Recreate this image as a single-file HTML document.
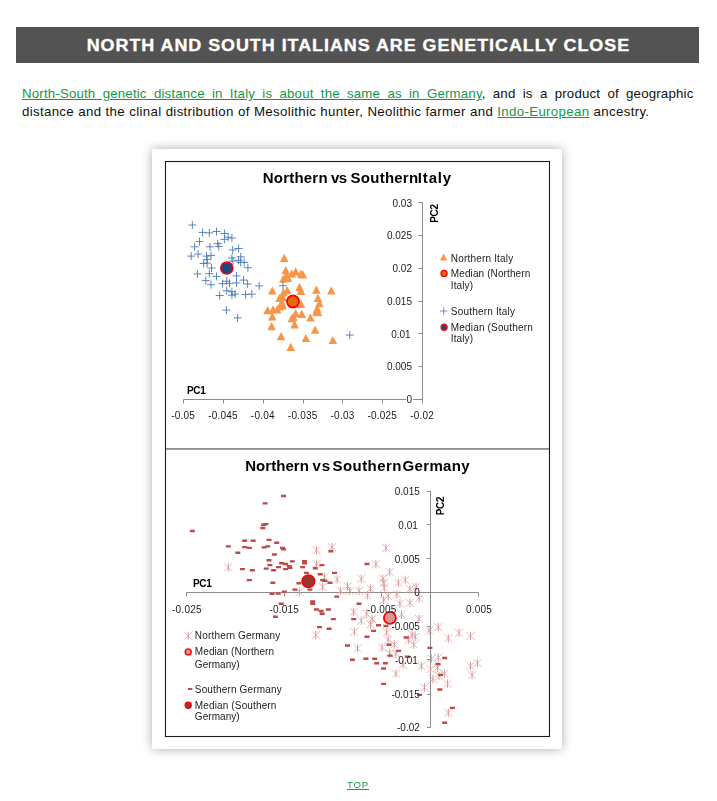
<!DOCTYPE html>
<html><head><meta charset="utf-8"><title>North and South Italians</title>
<style>
html,body{margin:0;padding:0;background:#fff;}
body{width:717px;height:801px;position:relative;overflow:hidden;font-family:"Liberation Sans",sans-serif;}
.hd{position:absolute;left:16px;top:27px;width:683px;height:36px;background:#535353;color:#fff;font-weight:bold;
 font-size:16.8px;line-height:38px;-webkit-text-stroke:0.35px #fff;text-align:center;letter-spacing:0.9px;white-space:nowrap;}
.hd span{display:inline-block;transform:scaleX(1.068);transform-origin:50% 50%;position:relative;left:1px;}
.p{position:absolute;left:22px;width:616px;font-size:12.2px;line-height:18px;color:#111;white-space:nowrap;transform:scaleX(1.09);transform-origin:0 0;}
.p1{top:85px;text-align:justify;text-align-last:justify;letter-spacing:0.15px;}
.p2{top:102.7px;letter-spacing:0.292px;word-spacing:0.2px;}
a{color:#14974a;text-decoration:underline;}
.box{position:absolute;left:152.2px;top:148.7px;width:410.3px;height:600.5px;background:#fff;box-shadow:0 0 10px rgba(0,0,0,.33);}
svg{position:absolute;left:0;top:0;will-change:transform;}
.t{font-family:"Liberation Sans",sans-serif;font-size:10px;fill:#1c1c1c;}
.xs{letter-spacing:0.22px;}
.b{font-weight:bold;fill:#000;letter-spacing:-0.3px;}
.ttl{font-family:"Liberation Sans",sans-serif;font-size:15px;font-weight:bold;fill:#000;}
.top{position:absolute;left:0;width:716px;top:779.3px;text-align:center;font-size:9.6px;line-height:12px;letter-spacing:0.8px;}
</style></head><body>
<div class="hd"><span>NORTH AND SOUTH ITALIANS ARE GENETICALLY CLOSE</span></div>
<div class="p p1"><a>North-South genetic distance in Italy is about the same as in Germany</a>, and is a product of geographic</div>
<div class="p p2">distance and the clinal distribution of Mesolithic hunter, Neolithic farmer and <a>Indo-European</a> ancestry.</div>
<div class="box"></div>
<svg width="717" height="801" viewBox="0 0 717 801">
<rect x="165.5" y="161.5" width="384" height="575" fill="none" stroke="#1a1a1a" stroke-width="1.1"/>
<rect x="166" y="448" width="383" height="1.8" fill="#8c8c8c"/>
<path d="M183.5 399.5H422.5M422.5 203V403" stroke="#8c8c8c" stroke-width="1" fill="none"/>
<path d="M183.5 399.5V403.5" stroke="#8c8c8c"/>
<path d="M223.5 399.5V403.5" stroke="#8c8c8c"/>
<path d="M263.5 399.5V403.5" stroke="#8c8c8c"/>
<path d="M303.5 399.5V403.5" stroke="#8c8c8c"/>
<path d="M342.5 399.5V403.5" stroke="#8c8c8c"/>
<path d="M382.5 399.5V403.5" stroke="#8c8c8c"/>
<path d="M422.5 399.5V403.5" stroke="#8c8c8c"/>
<path d="M418.5 202.5H422.5" stroke="#8c8c8c"/>
<path d="M418.5 235.5H422.5" stroke="#8c8c8c"/>
<path d="M418.5 268.5H422.5" stroke="#8c8c8c"/>
<path d="M418.5 301.5H422.5" stroke="#8c8c8c"/>
<path d="M418.5 333.5H422.5" stroke="#8c8c8c"/>
<path d="M418.5 366.5H422.5" stroke="#8c8c8c"/>
<path d="M418.5 399.5H422.5" stroke="#8c8c8c"/>
<rect x="406" y="394" width="7" height="10" fill="#fff"/>
<text x="412" y="206.7" text-anchor="end" class="t">0.03</text>
<text x="412" y="239.4" text-anchor="end" class="t">0.025</text>
<text x="412" y="272.2" text-anchor="end" class="t">0.02</text>
<text x="412" y="304.9" text-anchor="end" class="t">0.015</text>
<text x="410.7" y="337.6" text-anchor="end" class="t">0.01</text>
<text x="412" y="370.3" text-anchor="end" class="t">0.005</text>
<text x="412" y="403.1" text-anchor="end" class="t">0</text>
<text x="183.2" y="418.8" text-anchor="middle" class="t xs">-0.05</text>
<text x="223.0" y="418.8" text-anchor="middle" class="t xs">-0.045</text>
<text x="262.8" y="418.8" text-anchor="middle" class="t xs">-0.04</text>
<text x="302.7" y="418.8" text-anchor="middle" class="t xs">-0.035</text>
<text x="342.5" y="418.8" text-anchor="middle" class="t xs">-0.03</text>
<text x="382.3" y="418.8" text-anchor="middle" class="t xs">-0.025</text>
<text x="422.1" y="418.8" text-anchor="middle" class="t xs">-0.02</text>
<text x="187" y="393.5" class="t b">PC1</text>
<text transform="translate(437.8,222.8) rotate(-90)" class="t b">PC2</text>
<text x="262.7" y="183.3" class="ttl" textLength="64.9">Northern</text>
<text x="331.1" y="183.3" class="ttl" textLength="16.1">vs</text>
<text x="350.6" y="183.3" class="ttl" textLength="67.5">Southern</text>
<text x="417.8" y="183.3" class="ttl" textLength="33.4">Italy</text>
<path d="M284.2 253.8l4.3 8.2h-8.6zM285.7 266.1l4.3 8.2h-8.6zM291.8 269.2l4.3 8.2h-8.6zM295.7 267.2l4.3 8.2h-8.6zM301.0 269.6l4.3 8.2h-8.6zM302.9 270.3l4.3 8.2h-8.6zM286.5 271.5l4.3 8.2h-8.6zM283.4 274.6l4.3 8.2h-8.6zM288.0 273.8l4.3 8.2h-8.6zM299.5 283.0l4.3 8.2h-8.6zM301.0 286.8l4.3 8.2h-8.6zM272.3 286.4l4.3 8.2h-8.6zM287.2 286.1l4.3 8.2h-8.6zM283.4 288.4l4.3 8.2h-8.6zM316.4 285.6l4.3 8.2h-8.6zM331.3 286.4l4.3 8.2h-8.6zM279.5 293.7l4.3 8.2h-8.6zM282.6 293.0l4.3 8.2h-8.6zM317.9 293.7l4.3 8.2h-8.6zM281.8 298.3l4.3 8.2h-8.6zM301.0 299.9l4.3 8.2h-8.6zM319.4 299.1l4.3 8.2h-8.6zM279.5 302.2l4.3 8.2h-8.6zM282.6 301.4l4.3 8.2h-8.6zM277.2 305.2l4.3 8.2h-8.6zM273.1 305.2l4.3 8.2h-8.6zM267.6 306.0l4.3 8.2h-8.6zM317.1 304.5l4.3 8.2h-8.6zM316.4 307.5l4.3 8.2h-8.6zM317.9 308.0l4.3 8.2h-8.6zM295.7 309.1l4.3 8.2h-8.6zM301.8 309.8l4.3 8.2h-8.6zM293.4 312.9l4.3 8.2h-8.6zM291.8 314.1l4.3 8.2h-8.6zM272.3 312.4l4.3 8.2h-8.6zM310.5 313.4l4.3 8.2h-8.6zM294.6 320.3l4.3 8.2h-8.6zM271.6 322.1l4.3 8.2h-8.6zM315.1 325.6l4.3 8.2h-8.6zM281.1 332.1l4.3 8.2h-8.6zM305.9 333.9l4.3 8.2h-8.6zM332.8 335.9l4.3 8.2h-8.6zM290.7 342.8l4.3 8.2h-8.6z" fill="#f79646"/>
<path d="M188.3 225.0h8M192.3 221.0v8M198.6 232.4h8M202.6 228.4v8M205.3 232.9h8M209.3 228.9v8M212.5 231.5h8M216.5 227.5v8M220.6 233.5h8M224.6 229.5v8M224.1 237.3h8M228.1 233.3v8M227.9 238.0h8M231.9 234.0v8M220.4 239.4h8M224.4 235.4v8M195.5 241.5h8M199.5 237.5v8M190.6 246.8h8M194.6 242.8v8M206.0 246.8h8M210.0 242.8v8M213.7 243.6h8M217.7 239.6v8M214.8 246.4h8M218.8 242.4v8M228.7 249.9h8M232.7 245.9v8M234.6 248.5h8M238.6 244.5v8M187.2 256.1h8M191.2 252.1v8M194.1 254.1h8M198.1 250.1v8M202.5 256.1h8M206.5 252.1v8M207.0 255.4h8M211.0 251.4v8M203.2 259.6h8M207.2 255.6v8M199.7 263.5h8M203.7 259.5v8M203.2 263.1h8M207.2 259.1v8M227.9 258.0h8M231.9 254.0v8M236.7 256.8h8M240.7 252.8v8M229.0 261.0h8M233.0 257.0v8M234.6 260.3h8M238.6 256.3v8M236.7 262.4h8M240.7 258.4v8M240.2 262.4h8M244.2 258.4v8M243.9 267.7h8M247.9 263.7v8M207.4 268.0h8M211.4 264.0v8M193.4 273.9h8M197.4 269.9v8M205.3 273.6h8M209.3 269.6v8M212.5 276.4h8M216.5 272.4v8M232.5 275.9h8M236.5 271.9v8M201.8 280.6h8M205.8 276.6v8M207.0 284.7h8M211.0 280.7v8M218.5 283.6h8M222.5 279.6v8M222.7 281.2h8M226.7 277.2v8M225.5 283.3h8M229.5 279.3v8M232.5 282.9h8M236.5 278.9v8M239.5 280.1h8M243.5 276.1v8M243.6 284.0h8M247.6 280.0v8M255.2 285.9h8M259.2 281.9v8M222.7 290.7h8M226.7 286.7v8M227.9 291.7h8M231.9 287.7v8M215.7 295.5h8M219.7 291.5v8M227.9 295.2h8M231.9 291.2v8M231.1 294.1h8M235.1 290.1v8M241.6 294.5h8M245.6 290.5v8M247.8 294.1h8M251.8 290.1v8M222.4 310.1h8M226.4 306.1v8M233.6 317.9h8M237.6 313.9v8M345.8 335.1h8M349.8 331.1v8M278.9 285.7h8M282.9 281.7v8" stroke="#4a7ab5" stroke-width="1" fill="none" opacity="0.9"/>
<circle cx="226.8" cy="268" r="6.05" fill="#1f497d" stroke="#f00018" stroke-width="1.6"/>
<circle cx="293" cy="301.5" r="6" fill="#e36c0a" stroke="#ff0000" stroke-width="1.8"/>
<path d="M443.6 253.5l3.6 7h-7.2z" fill="#f79646"/>
<text x="450.8" y="261.6" class="t" textLength="62.4">Northern Italy</text>
<circle cx="444.1" cy="273.4" r="3" fill="#e36c0a" stroke="#ff0000" stroke-width="1.4"/>
<text x="450.8" y="277.4" class="t" textLength="79.5">Median (Northern</text>
<text x="450.8" y="289.2" class="t" textLength="22.2">Italy)</text>
<path d="M440 311h7.4M443.7 307.3v7.4" stroke="#4a7ab5" stroke-width="1" fill="none" opacity="0.8"/>
<text x="450.8" y="314.8" class="t" textLength="64.2">Southern Italy</text>
<circle cx="444.1" cy="327.3" r="3" fill="#1f497d" stroke="#ee1122" stroke-width="1.4"/>
<text x="450.8" y="330.6" class="t" textLength="82.0">Median (Southern</text>
<text x="450.8" y="342.4" class="t" textLength="22.2">Italy)</text>
<path d="M186.5 592.5H478.5M430.5 491V727.5" stroke="#8c8c8c" stroke-width="1" fill="none"/>
<path d="M186.5 592.5V596.5" stroke="#8c8c8c"/>
<path d="M284.5 592.5V596.5" stroke="#8c8c8c"/>
<path d="M381.5 592.5V596.5" stroke="#8c8c8c"/>
<path d="M478.5 592.5V596.5" stroke="#8c8c8c"/>
<path d="M427 491.5H430.5" stroke="#8c8c8c"/>
<path d="M427 524.5H430.5" stroke="#8c8c8c"/>
<path d="M427 558.5H430.5" stroke="#8c8c8c"/>
<path d="M427 592.5H430.5" stroke="#8c8c8c"/>
<path d="M427 626.5H430.5" stroke="#8c8c8c"/>
<path d="M427 659.5H430.5" stroke="#8c8c8c"/>
<path d="M427 694.5H430.5" stroke="#8c8c8c"/>
<path d="M427 727.5H430.5" stroke="#8c8c8c"/>
<text x="245.2" y="471" class="ttl" textLength="63.7">Northern</text>
<text x="312.5" y="471" class="ttl" textLength="17.7">vs</text>
<text x="332.6" y="471" class="ttl" textLength="68.7">Southern</text>
<text x="402.6" y="471" class="ttl" textLength="66.9">Germany</text>
<text x="193" y="586.6" class="t b">PC1</text>
<text transform="translate(444.3,515.3) rotate(-90)" class="t b">PC2</text>
<path d="M224.3 563.4l8 8M232.3 563.4l-8 8M312.5 546.2l8 8M320.5 546.2l-8 8M328.2 543.1l8 8M336.2 543.1l-8 8M381.9 543.9l8 8M389.9 543.9l-8 8M312.5 560.0l8 8M320.5 560.0l-8 8M371.9 560.3l8 8M379.9 560.3l-8 8M320.5 573.1l8 8M328.5 573.1l-8 8M333.1 575.4l8 8M341.1 575.4l-8 8M357.3 574.9l8 8M365.3 574.9l-8 8M318.7 583.0l8 8M326.7 583.0l-8 8M343.5 582.3l8 8M351.5 582.3l-8 8M366.5 584.6l8 8M374.5 584.6l-8 8M378.8 574.6l8 8M386.8 574.6l-8 8M379.8 578.9l8 8M387.8 578.9l-8 8M385.7 568.2l8 8M393.7 568.2l-8 8M295.5 588.0l8 8M303.5 588.0l-8 8M336.6 586.9l8 8M344.6 586.9l-8 8M345.8 586.9l8 8M353.8 586.9l-8 8M355.0 586.9l8 8M363.0 586.9l-8 8M380.3 583.8l8 8M388.3 583.8l-8 8M311.8 631.2l8 8M319.8 631.2l-8 8M349.7 607.8l8 8M357.7 607.8l-8 8M350.4 627.7l8 8M358.4 627.7l-8 8M353.5 644.3l8 8M361.5 644.3l-8 8M357.3 616.7l8 8M365.3 616.7l-8 8M362.7 609.8l8 8M370.7 609.8l-8 8M368.1 615.1l8 8M376.1 615.1l-8 8M378.1 643.5l8 8M386.1 643.5l-8 8M391.9 669.6l8 8M399.9 669.6l-8 8M382.7 628.2l8 8M390.7 628.2l-8 8M384.2 635.8l8 8M392.2 635.8l-8 8M390.3 640.4l8 8M398.3 640.4l-8 8M385.7 649.6l8 8M393.7 649.6l-8 8M391.9 649.6l8 8M399.9 649.6l-8 8M379.6 596.0l8 8M387.6 596.0l-8 8M384.2 592.1l8 8M392.2 592.1l-8 8M363.5 591.3l8 8M371.5 591.3l-8 8M366.5 620.5l8 8M374.5 620.5l-8 8M394.4 578.9l8 8M402.4 578.9l-8 8M401.3 575.9l8 8M409.3 575.9l-8 8M412.1 582.8l8 8M420.1 582.8l-8 8M405.9 585.1l8 8M413.9 585.1l-8 8M392.9 590.4l8 8M400.9 590.4l-8 8M405.9 598.9l8 8M413.9 598.9l-8 8M415.1 594.3l8 8M423.1 594.3l-8 8M395.9 599.6l8 8M403.9 599.6l-8 8M397.5 610.4l8 8M405.5 610.4l-8 8M415.1 615.0l8 8M423.1 615.0l-8 8M425.1 626.5l8 8M433.1 626.5l-8 8M434.3 623.2l8 8M442.3 623.2l-8 8M455.0 628.9l8 8M463.0 628.9l-8 8M466.5 632.0l8 8M474.5 632.0l-8 8M444.3 634.3l8 8M452.3 634.3l-8 8M411.3 632.7l8 8M419.3 632.7l-8 8M408.2 630.6l8 8M416.2 630.6l-8 8M404.4 635.9l8 8M412.4 635.9l-8 8M409.8 640.5l8 8M417.8 640.5l-8 8M399.0 660.5l8 8M407.0 660.5l-8 8M417.4 662.0l8 8M425.4 662.0l-8 8M427.4 654.4l8 8M435.4 654.4l-8 8M434.3 653.6l8 8M442.3 653.6l-8 8M426.6 665.1l8 8M434.6 665.1l-8 8M433.5 663.6l8 8M441.5 663.6l-8 8M440.4 669.7l8 8M448.4 669.7l-8 8M428.9 675.1l8 8M436.9 675.1l-8 8M435.1 672.0l8 8M443.1 672.0l-8 8M443.5 679.7l8 8M451.5 679.7l-8 8M420.5 683.5l8 8M428.5 683.5l-8 8M444.3 708.8l8 8M452.3 708.8l-8 8M466.5 662.0l8 8M474.5 662.0l-8 8M473.4 659.0l8 8M481.4 659.0l-8 8M468.1 671.2l8 8M476.1 671.2l-8 8" stroke="#d99694" stroke-width="0.85" fill="none" opacity="0.8"/>
<path d="M228.3 563.2v8.4M316.5 546.0v8.4M332.2 542.9v8.4M385.9 543.7v8.4M316.5 559.8v8.4M375.9 560.1v8.4M324.5 572.9v8.4M337.1 575.2v8.4M361.3 574.7v8.4M322.7 582.8v8.4M347.5 582.1v8.4M370.5 584.4v8.4M382.8 574.4v8.4M383.8 578.7v8.4M389.7 568.0v8.4M299.5 587.8v8.4M340.6 586.7v8.4M349.8 586.7v8.4M359.0 586.7v8.4M384.3 583.6v8.4M315.8 631.0v8.4M353.7 607.6v8.4M354.4 627.5v8.4M357.5 644.1v8.4M361.3 616.5v8.4M366.7 609.6v8.4M372.1 614.9v8.4M382.1 643.3v8.4M395.9 669.4v8.4M386.7 628.0v8.4M388.2 635.6v8.4M394.3 640.2v8.4M389.7 649.4v8.4M395.9 649.4v8.4M383.6 595.8v8.4M388.2 591.9v8.4M367.5 591.1v8.4M370.5 620.3v8.4M398.4 578.7v8.4M405.3 575.7v8.4M416.1 582.6v8.4M409.9 584.9v8.4M396.9 590.2v8.4M409.9 598.7v8.4M419.1 594.1v8.4M399.9 599.4v8.4M401.5 610.2v8.4M419.1 614.8v8.4M429.1 626.3v8.4M438.3 623.0v8.4M459.0 628.7v8.4M470.5 631.8v8.4M448.3 634.1v8.4M415.3 632.5v8.4M412.2 630.4v8.4M408.4 635.7v8.4M413.8 640.3v8.4M403.0 660.3v8.4M421.4 661.8v8.4M431.4 654.2v8.4M438.3 653.4v8.4M430.6 664.9v8.4M437.5 663.4v8.4M444.4 669.5v8.4M432.9 674.9v8.4M439.1 671.8v8.4M447.5 679.5v8.4M424.5 683.3v8.4M448.3 708.6v8.4M470.5 661.8v8.4M477.4 658.8v8.4M472.1 671.0v8.4" stroke="#d99694" stroke-width="1" fill="none" opacity="0.95"/>
<path d="M281.1 494.8h5v2.4h-5zM262.6 502.2h5v2.4h-5zM189.8 529.8h5v2.4h-5zM263.4 522.9h5v2.4h-5zM261.1 523.5h5v2.4h-5zM260.3 526.8h5v2.4h-5zM242.2 539.5h5v2.4h-5zM250.7 539.5h5v2.4h-5zM266.5 538.7h5v2.4h-5zM274.2 541.6h5v2.4h-5zM225.8 545.2h5v2.4h-5zM242.2 545.9h5v2.4h-5zM246.8 546.7h5v2.4h-5zM261.6 546.2h5v2.4h-5zM265.3 545.2h5v2.4h-5zM280.0 546.7h5v2.4h-5zM281.1 548.2h5v2.4h-5zM235.3 551.6h5v2.4h-5zM271.9 553.3h5v2.4h-5zM266.5 559.0h5v2.4h-5zM267.3 563.9h5v2.4h-5zM279.1 562.0h5v2.4h-5zM283.1 562.8h5v2.4h-5zM239.9 567.9h5v2.4h-5zM249.9 569.1h5v2.4h-5zM263.7 567.4h5v2.4h-5zM271.1 569.1h5v2.4h-5zM276.0 565.9h5v2.4h-5zM283.1 567.9h5v2.4h-5zM246.8 578.9h5v2.4h-5zM270.3 581.5h5v2.4h-5zM286.7 565.1h5v2.4h-5zM281.8 590.4h5v2.4h-5zM275.7 592.4h5v2.4h-5zM269.6 592.7h5v2.4h-5zM289.8 560.2h5v2.4h-5zM287.5 566.6h5v2.4h-5zM302.0 560.0h5v2.4h-5zM302.0 562.0h5v2.4h-5zM300.1 565.9h5v2.4h-5zM312.8 567.0h5v2.4h-5zM319.4 563.9h5v2.4h-5zM328.4 550.1h5v2.4h-5zM303.9 571.7h5v2.4h-5zM317.7 573.1h5v2.4h-5zM332.0 571.7h5v2.4h-5zM320.2 578.9h5v2.4h-5zM322.3 579.7h5v2.4h-5zM327.4 581.5h5v2.4h-5zM296.4 582.0h5v2.4h-5zM292.4 588.4h5v2.4h-5zM307.4 588.4h5v2.4h-5zM364.5 562.8h5v2.4h-5zM334.3 595.4h5v2.4h-5zM310.2 600.3h5v2.4h-5zM310.2 602.6h5v2.4h-5zM313.9 608.3h5v2.4h-5zM318.6 609.8h5v2.4h-5zM319.7 612.6h5v2.4h-5zM325.9 608.3h5v2.4h-5zM330.8 617.9h5v2.4h-5zM317.0 625.9h5v2.4h-5zM326.6 627.6h5v2.4h-5zM356.5 602.6h5v2.4h-5zM351.2 617.9h5v2.4h-5zM376.0 624.1h5v2.4h-5zM383.4 624.8h5v2.4h-5zM371.1 629.7h5v2.4h-5zM364.5 635.6h5v2.4h-5zM345.0 644.3h5v2.4h-5zM349.9 658.6h5v2.4h-5zM363.4 657.5h5v2.4h-5zM372.2 657.5h5v2.4h-5zM374.2 662.0h5v2.4h-5zM382.9 662.0h5v2.4h-5zM381.1 667.3h5v2.4h-5zM381.1 682.7h5v2.4h-5zM386.5 643.5h5v2.4h-5zM387.5 654.4h5v2.4h-5zM396.0 649.7h5v2.4h-5zM403.6 636.3h5v2.4h-5zM404.8 655.6h5v2.4h-5zM427.4 646.7h5v2.4h-5zM442.2 656.8h5v2.4h-5zM435.5 662.8h5v2.4h-5zM438.1 673.7h5v2.4h-5zM437.3 688.3h5v2.4h-5zM417.1 693.7h5v2.4h-5zM449.9 706.7h5v2.4h-5zM442.2 721.6h5v2.4h-5zM278.8 602.5h5v2.4h-5zM272.9 615.6h5v2.4h-5z" fill="#be4b48"/>
<circle cx="308.4" cy="581.2" r="6.25" fill="#953735" stroke="#ff0000" stroke-width="1.6"/>
<circle cx="389.9" cy="617.9" r="6" fill="#d99694" stroke="#ff0000" stroke-width="1.8"/>
<rect x="414" y="587.5" width="7" height="10" fill="#fff" opacity="0.0"/>
<text x="419.8" y="495.2" text-anchor="end" class="t">0.015</text>
<text x="417.8" y="528.9" text-anchor="end" class="t">0.01</text>
<text x="419.8" y="562.7" text-anchor="end" class="t">0.005</text>
<text x="419.8" y="596.4" text-anchor="end" class="t">0</text>
<text x="419.8" y="630.2" text-anchor="end" class="t">-0.005</text>
<text x="417.8" y="663.9" text-anchor="end" class="t">-0.01</text>
<text x="419.8" y="697.7" text-anchor="end" class="t">-0.015</text>
<text x="419.8" y="731.4" text-anchor="end" class="t">-0.02</text>
<text x="186.9" y="612.7" text-anchor="middle" class="t xs">-0.025</text>
<text x="284.3" y="612.7" text-anchor="middle" class="t xs">-0.015</text>
<text x="381.7" y="612.7" text-anchor="middle" class="t xs">-0.005</text>
<text x="479.1" y="612.7" text-anchor="middle" class="t xs">0.005</text>
<path d="M184.6 632.2l7.2 7.4M191.8 632.2l-7.2 7.4M188.2 632.0v7.8" stroke="#d99694" stroke-width="0.9" fill="none"/>
<text x="194.8" y="639.2" class="t" textLength="85.5">Northern Germany</text>
<circle cx="188.2" cy="651.9" r="3" fill="#d99694" stroke="#ff0000" stroke-width="1.4"/>
<text x="194.8" y="655.4" class="t" textLength="79.3">Median (Northern</text>
<text x="194.8" y="667.5" class="t" textLength="44.9">Germany)</text>
<rect x="188" y="688" width="4.4" height="2" fill="#be4b48"/>
<text x="194.8" y="692.5" class="t" textLength="86.9">Southern Germany</text>
<circle cx="188.2" cy="705.2" r="3" fill="#953735" stroke="#ff0000" stroke-width="1.4"/>
<text x="194.8" y="708.7" class="t" textLength="81.6">Median (Southern</text>
<text x="194.8" y="720.4" class="t" textLength="44.9">Germany)</text>
</svg>
<div class="top"><a>TOP</a></div>
</body></html>
